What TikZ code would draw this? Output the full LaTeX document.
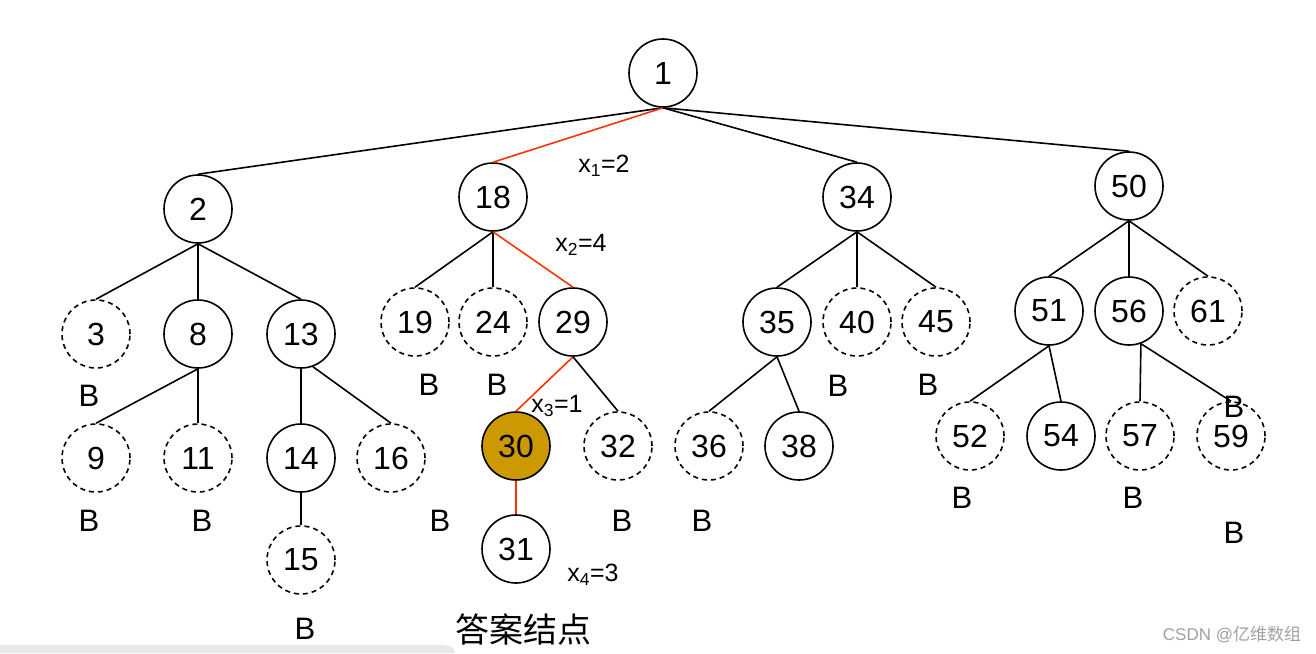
\documentclass[tikz,border=0pt]{standalone}
\usepackage{fontspec}
\setmainfont{Liberation Sans}
\newfontfamily\cjk{Noto Sans CJK SC}
\definecolor{gold}{RGB}{204,153,0}
\definecolor{redline}{RGB}{255,51,0}
\definecolor{band}{RGB}{233,233,233}
\definecolor{wm}{RGB}{160,160,160}
\begin{document}
\begin{tikzpicture}[x=1pt,y=-1pt,
 nd/.style={circle,draw,line width=1.6pt,minimum size=68pt,inner sep=0pt,font=\fontsize{32}{38}\selectfont},
 dnd/.style={nd,dash pattern=on 5pt off 4pt},
 ans/.style={nd,fill=gold},
 lbl/.style={font=\fontsize{31}{36}\selectfont,inner sep=0pt},
 xl/.style={font=\fontsize{25}{30}\selectfont,inner sep=0pt},
 edge/.style={line width=1.6pt},
 redge/.style={line width=1.6pt,draw=redline}]
\useasboundingbox (0,0) rectangle (1316,653);
\fill[band] (0,645) -- (443,645) to[out=0,in=90] (455,653) -- (0,653) -- cycle;
% level 0
\node[nd] (n1) at (663,73) {1};
% level 1
\node[nd] (n2) at (198,209) {2};
\node[nd] (n18) at (493,197) {18};
\node[nd] (n34) at (857,197) {34};
\node[nd] (n50) at (1129,186) {50};
% level 2
\node[dnd] (n3) at (96,334) {3};
\node[nd] (n8) at (198,334) {8};
\node[nd] (n13) at (301,334) {13};
\node[dnd] (n19) at (415,322) {19};
\node[dnd] (n24) at (493,322) {24};
\node[nd] (n29) at (573,322) {29};
\node[nd] (n35) at (777,322) {35};
\node[dnd] (n40) at (857,322) {40};
\node[dnd] (n45) at (936,322) {45};
\node[nd] (n51) at (1049,311) {51};
\node[nd] (n56) at (1129,311) {56};
\node[dnd] (n61) at (1208,311) {61};
% level 3
\node[dnd] (n9) at (96,458) {9};
\node[dnd] (n11) at (198,458) {11};
\node[nd] (n14) at (301,458) {14};
\node[dnd] (n16) at (391,458) {16};
\node[ans] (n30) at (516,446) {30};
\node[dnd] (n32) at (618,446) {32};
\node[dnd] (n36) at (709,446) {36};
\node[nd] (n38) at (799,446) {38};
\node[dnd] (n52) at (970,436) {52};
\node[nd] (n54) at (1061,436) {54};
\node[dnd] (n57) at (1140,436) {57};
\node[dnd] (n59) at (1231,436) {59};
% level 4
\node[dnd] (n15) at (301,560) {15};
\node[nd] (n31) at (516,549) {31};
% edges
\draw[edge] (n1.south) -- (n2.north);
\draw[redge] (n1.south) -- (n18.north);
\draw[edge] (n1.south) -- (n34.north);
\draw[edge] (n1.south) -- (n50.north);
\draw[edge] (n2.south) -- (n3.north);
\draw[edge] (n2.south) -- (n8.north);
\draw[edge] (n2.south) -- (n13.north);
\draw[edge] (n8.south) -- (n9.north);
\draw[edge] (n8.south) -- (n11.north);
\draw[edge] (n13.south) -- (n14.north);
\draw[edge] (n13.-70) -- (n16.north);
\draw[edge] (n14.south) -- (n15.north);
\draw[edge] (n18.south) -- (n19.north);
\draw[edge] (n18.south) -- (n24.north);
\draw[redge] (n18.south) -- (n29.north);
\draw[redge] (n29.south) -- (n30.north);
\draw[edge] (n29.south) -- (n32.north);
\draw[redge] (n30.south) -- (n31.north);
\draw[edge] (n34.south) -- (n35.north);
\draw[edge] (n34.south) -- (n40.north);
\draw[edge] (n34.south) -- (n45.north);
\draw[edge] (n35.south) -- (n36.north);
\draw[edge] (n35.south) -- (n38.north);
\draw[edge] (n50.south) -- (n51.north);
\draw[edge] (n50.south) -- (n56.north);
\draw[edge] (n50.south) -- (n61.north);
\draw[edge] (n51.south) -- (n52.north);
\draw[edge] (n51.south) -- (n54.north);
\draw[edge] (n56.-70) -- (n57.north);
\draw[edge] (n56.-70) -- (n59.north);
% B labels
\node[lbl] (b3) at (89,396) {B};
\node[lbl] (b9) at (89,521) {B};
\node[lbl] (b11) at (202,521) {B};
\node[lbl] (b15) at (305,629) {B};
\node[lbl] (b19) at (429,385) {B};
\node[lbl] (b24) at (497,385) {B};
\node[lbl] (b16) at (440,521) {B};
\node[lbl] (b32) at (622,521) {B};
\node[lbl] (b36) at (702,521) {B};
\node[lbl] (b40) at (838,386) {B};
\node[lbl] (b45) at (928,385) {B};
\node[lbl] (b61) at (1234,407) {B};
\node[lbl] (b52) at (962,498) {B};
\node[lbl] (b57) at (1133,498) {B};
\node[lbl] (b59) at (1234,533) {B};
% x labels
\node[xl] (x1) at (604,166) {x\textsubscript{1}=2};
\node[xl] (x2) at (581,245) {x\textsubscript{2}=4};
\node[xl] (x3) at (557,406) {x\textsubscript{3}=1};
\node[xl] (x4) at (593,575) {x\textsubscript{4}=3};
% answer label
\node[inner sep=0pt,font=\cjk\fontsize{34}{38}\selectfont] (ansl) at (523,629) {答案结点};
% watermark
\node[inner sep=0pt,text=wm,font=\fontsize{17}{19}\selectfont] (wmk) at (1232,635) {CSDN @{\cjk 亿维数组}};
\end{tikzpicture}
\end{document}
